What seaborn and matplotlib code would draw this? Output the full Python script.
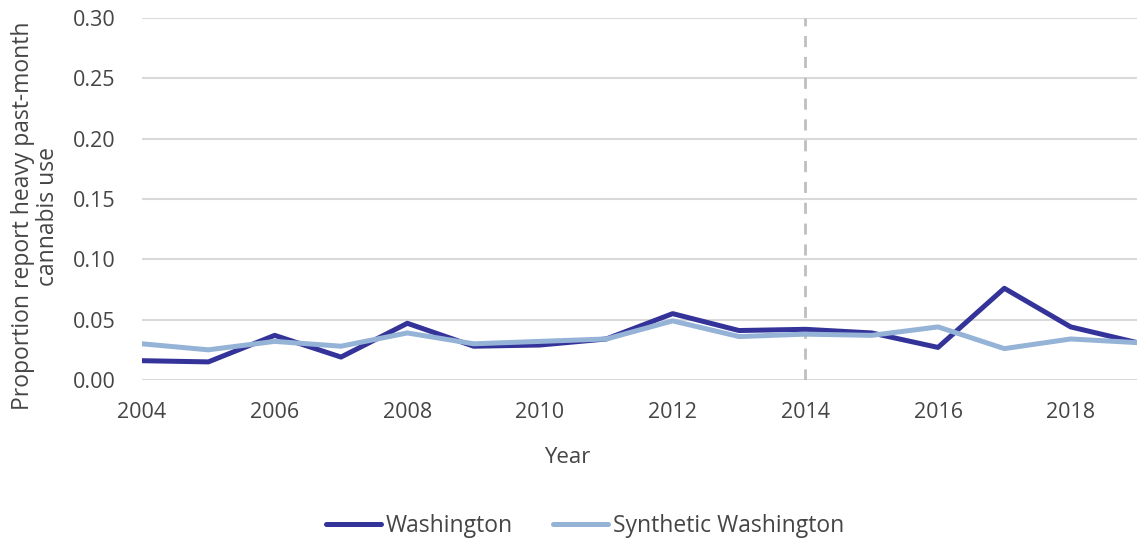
import numpy as np
import pandas as pd
import seaborn as sns
from matplotlib import pyplot as plt

# values
years = list(range(2004, 2020))
washington = [0.016, 0.015, 0.037, 0.019, 0.047, 0.028, 0.029, 0.034, 0.055,
              0.041, 0.042, 0.039, 0.027, 0.076, 0.044, 0.031]
synthetic = [0.030, 0.025, 0.032, 0.028, 0.039, 0.030, 0.032, 0.034, 0.049,
             0.036, 0.038, 0.037, 0.044, 0.026, 0.034, 0.031]
y_ticks = [0.00, 0.05, 0.10, 0.15, 0.20, 0.25, 0.30]
x_ticks = [2004, 2006, 2008, 2010, 2012, 2014, 2016, 2018]
policy_year = 2014

df = pd.DataFrame({
    'Year': years * 2,
    'value': washington + synthetic,
    'series': ['Washington'] * len(years) + ['Synthetic Washington'] * len(years),
})

sns.set_style('white')
plt.rcParams['font.family'] = ['Open Sans', 'DejaVu Sans']
text_col = '#454545'

fig = plt.figure(figsize=(11.37, 5.41), dpi=100)
ax = fig.add_axes([0.1249, 0.2976, 0.8751, 0.6691])

ax.axvline(policy_year, color='#bfbfbf', lw=2, ls=(0, (4, 3.5)), zorder=1)

sns.lineplot(data=df, x='Year', y='value', hue='series',
             palette={'Washington': '#333399', 'Synthetic Washington': '#95b3d7'},
             linewidth=3.6, ax=ax, legend=True, zorder=3)

ax.set_xlim(2004, 2019)
ax.set_ylim(0, 0.30)
ax.set_yticks(y_ticks)
ax.set_yticklabels([f'{v:.2f}' for v in y_ticks])
ax.set_xticks(x_ticks)
ax.yaxis.grid(True, color='#d9d9d9', lw=1.5)
ax.xaxis.grid(False)
for s in ax.spines.values():
    s.set_visible(False)
ax.tick_params(axis='both', length=0, labelsize=15.5, colors=text_col)
ax.tick_params(axis='y', pad=19)
ax.tick_params(axis='x', pad=16)

ax.set_xlabel('Year', fontsize=16, color=text_col, va='top')
ax.xaxis.set_label_coords(0.427, -0.185)
ax.set_ylabel('Proportion report heavy past-month\ncannabis use', fontsize=16.5,
              color=text_col, linespacing=1.05)
ax.yaxis.set_label_coords(-0.0824, 0.453)

handles, labels = ax.get_legend_handles_labels()
leg = ax.legend(handles, labels, loc='center', bbox_to_anchor=(0.5145, 0.0277),
                bbox_transform=fig.transFigure, ncol=2, frameon=False,
                fontsize=16.5, handlelength=2.4, handletextpad=0.22, columnspacing=1.75)
for t in leg.get_texts():
    t.set_color(text_col)

plt.savefig('out.png', dpi=100)
